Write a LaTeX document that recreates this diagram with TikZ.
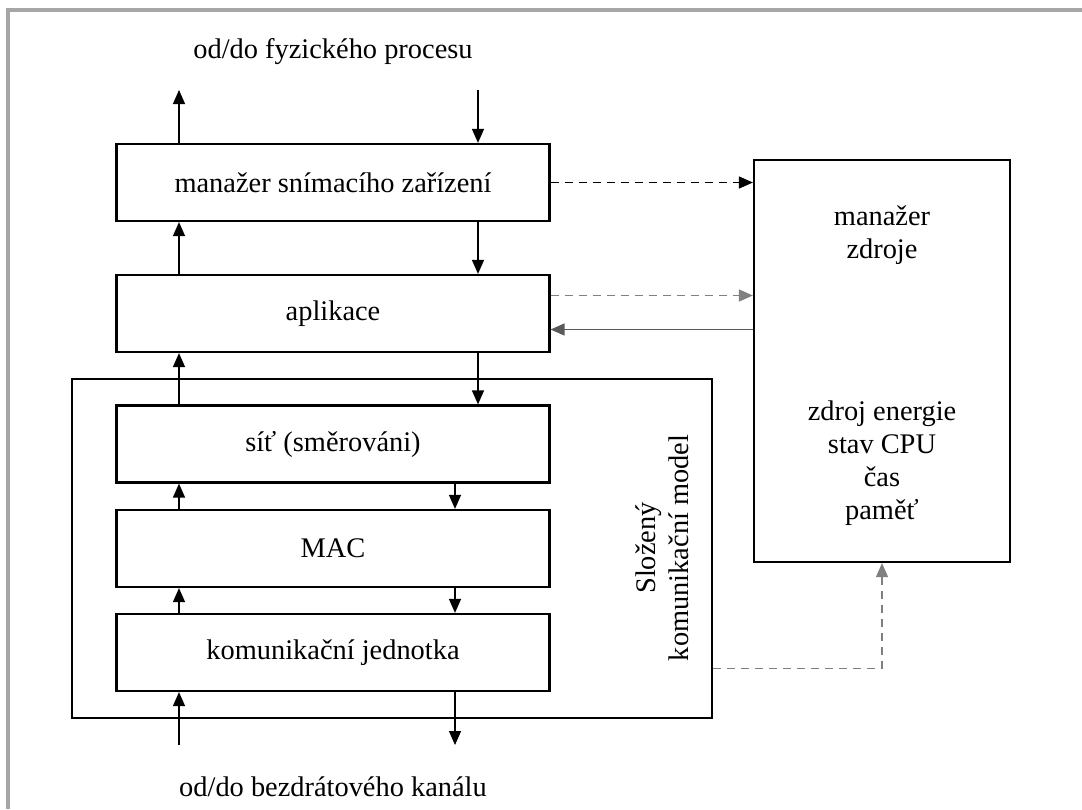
\documentclass[tikz,border=0pt]{standalone}
\usepackage{fontspec}
\setmainfont{Liberation Serif}
\usetikzlibrary{arrows.meta}
\tikzset{
  layer/.style={draw, line width=1.1pt, minimum width=216.5pt, minimum height=38.5pt, inner sep=0pt},
  arr/.style={-{Triangle[length=7pt,width=6pt]}, line width=0.7pt},
  dashline/.style={dash pattern=on 4pt off 3pt}
}

\begin{document}
\begin{tikzpicture}[x=0.5pt, y=-0.5pt, font=\fontsize{14.2}{16.5}\selectfont]
  \useasboundingbox (0,0) rectangle (1082,809);
  \draw[gray!70, line width=1.6pt] (8,809) -- (8,10) -- (1082,10);

  \node (phys) at (333,52) {od/do fyzického procesu};
  \node (chan) at (333,787) {od/do bezdrátového kanálu};

  \node[layer] (sensor) at (333,182.5) {manažer snímacího zařízení};
  \node[layer] (app) at (333,313.5) {aplikace};
  \node[draw, line width=1.1pt, minimum width=320pt, minimum height=169.5pt] (comp) at (392,548.5) {};
  \node[layer] (net) at (333,444) {síť (směrováni)};
  \node[layer] (mac) at (333,548.5) {MAC};
  \node[layer] (radio) at (333,652.5) {komunikační jednotka};
  \node[rotate=90, align=center] (complabel) at (662,548) {Složený\\komunikační model};

  \node[draw, line width=1.1pt, minimum width=128pt, minimum height=201pt] (res) at (882,361) {};
  \node[align=center] (resname) at (882,235) {manažer\\zdroje};
  \node[align=center] (resstate) at (882,463) {zdroj energie\\stav CPU\\čas\\paměť};

  % free ends
  \coordinate (physout) at (179,90);
  \coordinate (physin) at (478,90);
  \coordinate (chanin) at (179,745);
  \coordinate (chanout) at (455,745);

  \draw[arr] (sensor.north -| physout) -- (physout);
  \draw[arr] (physin) -- (sensor.north -| physin);
  \draw[arr] (app.north -| physout) -- (sensor.south -| physout);
  \draw[arr] (sensor.south -| physin) -- (app.north -| physin);
  \draw[arr] (net.north -| physout) -- (app.south -| physout);
  \draw[arr] (app.south -| physin) -- (net.north -| physin);
  \draw[arr] (mac.north -| physout) -- (net.south -| physout);
  \draw[arr] (net.south -| chanout) -- (mac.north -| chanout);
  \draw[arr] (radio.north -| physout) -- (mac.south -| physout);
  \draw[arr] (mac.south -| chanout) -- (radio.north -| chanout);
  \draw[arr] (chanin) -- (radio.south -| chanin);
  \draw[arr] (radio.south -| chanout) -- (chanout);

  % resource manager links
  \draw[arr, dashline] (sensor.east) -- (sensor.east -| res.west);
  \draw[arr, dashline, gray] ([yshift=9pt]app.east) -- ([yshift=9pt]app.east -| res.west);
  \draw[arr, gray!70!black] ([yshift=-8pt]app.east -| res.west) -- ([yshift=-8pt]app.east);
  \draw[arr, dashline, gray] ([yshift=-60pt]comp.east) -| (res.south);
\end{tikzpicture}
\end{document}
